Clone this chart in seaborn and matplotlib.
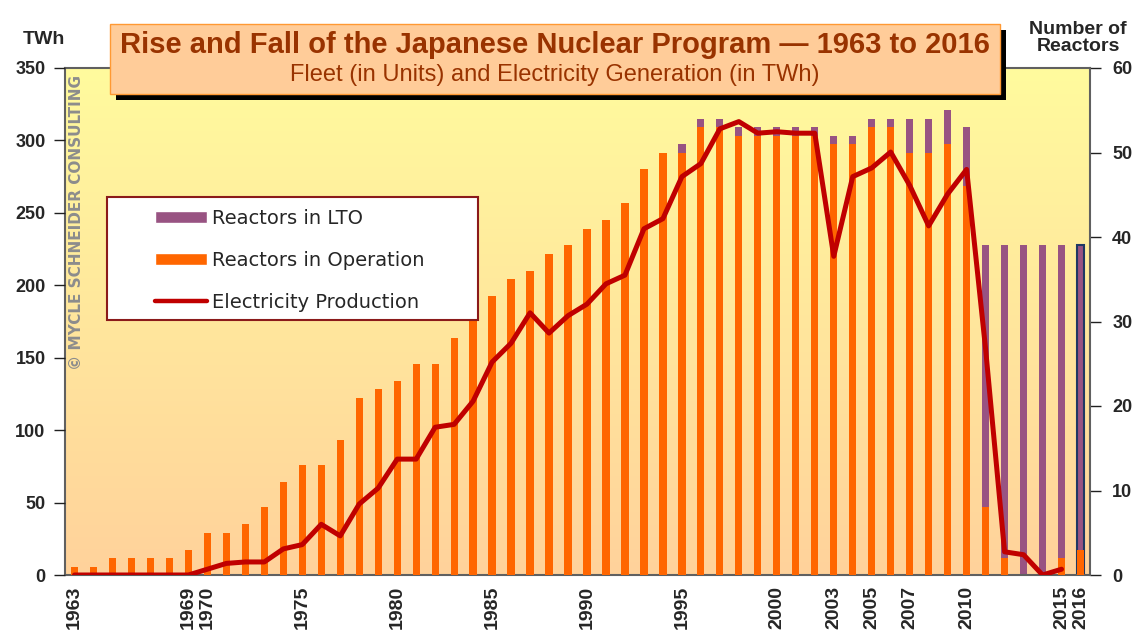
import numpy as np
import pandas as pd
import matplotlib
matplotlib.use('Agg')
import matplotlib.pyplot as plt
from matplotlib.patches import Rectangle, Patch
from matplotlib.lines import Line2D
import seaborn as sns

# data
years = list(range(1963, 2017))
operation = [1, 1, 2, 2, 2, 2, 3, 5, 5, 6, 8, 11, 13, 13, 16, 21, 22, 23, 25, 25,
             28, 31, 33, 35, 36, 38, 39, 41, 42, 44, 48, 50, 50, 53, 53, 52, 52, 52,
             52, 52, 51, 51, 53, 53, 50, 50, 51, 46, 8, 2, 0, 0, 2, 3]
lto = [0] * 32 + [1, 1, 1, 1, 1, 1, 1, 1, 1, 1, 1, 1, 4, 4, 4, 7, 31, 37, 39, 39, 37, 36]
# electricity production (TWh), 1963-2015
twh = [0, 0, 0, 0, 0, 0, 0, 4, 8, 9, 9, 18, 21, 35, 27, 49, 60, 80, 80, 102, 104,
       120, 147, 160, 181, 167, 179, 187, 201, 207, 239, 246, 275, 284, 308, 313,
       305, 306, 305, 305, 220, 275, 281, 292, 269, 241, 263, 280, 156, 16, 14, 0, 4]
label_years = [1963, 1969, 1970, 1975, 1980, 1985, 1990, 1995, 2000, 2003, 2005,
               2007, 2010, 2015, 2016]

ORANGE = '#FF6600'
PURPLE = '#985382'
RED = '#C00000'
BROWN = '#993300'

df = pd.DataFrame({'year': [str(y) for y in years], 'operation': operation,
                   'total': np.array(operation) + np.array(lto)})

sns.set_theme(style='white')
plt.rcParams['font.family'] = ['Liberation Sans', 'DejaVu Sans']

fig = plt.figure(figsize=(11.33, 6.35), dpi=100)
ax = fig.add_axes([65 / 1133, 60 / 635, 1025 / 1133, 507 / 635])

# background gradient
top = np.array([255, 251, 158]) / 255
bot = np.array([255, 210, 155]) / 255
grad = np.linspace(0, 1, 256)[:, None, None] * (bot - top) + top
ax.imshow(grad, extent=[0, 1, 0, 1], transform=ax.transAxes, aspect='auto', zorder=0)

sns.barplot(data=df, x='year', y='total', color=PURPLE, saturation=1, width=0.38,
            errorbar=None, ax=ax, zorder=2, linewidth=0)
sns.barplot(data=df, x='year', y='operation', color=ORANGE, saturation=1, width=0.38,
            errorbar=None, ax=ax, zorder=3, linewidth=0)
ax.patches[len(years) - 1].set_edgecolor('#1F3864')
ax.patches[len(years) - 1].set_linewidth(1.5)

ax.set_xlim(-0.5, len(years) - 0.5)
ax.set_ylim(0, 60)
ax.set_yticks(range(0, 61, 10))
ax.set_xlabel('')
ax.set_ylabel('')

ax2 = ax.twinx()
sns.lineplot(x=np.arange(len(twh)), y=twh, color=RED, lw=3.6, ax=ax2,
             solid_capstyle='round', solid_joinstyle='round', zorder=4)
ax2.set_ylim(0, 350)
ax2.set_yticks(range(0, 351, 50))
ax2.set_xlim(-0.5, len(years) - 0.5)
ax2.set_xlabel('')
ax2.set_ylabel('')
ax.yaxis.tick_right()
ax2.yaxis.tick_left()
for s in ax2.spines.values():
    s.set_visible(False)
for s in ax.spines.values():
    s.set_color('#606060')
    s.set_linewidth(1.5)

tick_font = dict(family='Liberation Sans', weight='bold', size=13)
ax.set_xticks([years.index(y) for y in label_years])
ax.set_xticklabels([str(y) for y in label_years], rotation=90, fontsize=14,
                   fontweight='bold', family='Liberation Sans')
ax.set_xticks(np.arange(-0.5, len(years), 1), minor=True)
ax.tick_params(axis='x', which='major', length=0, pad=8)
ax.tick_params(axis='x', which='minor', length=7, width=1, color='#404040', direction='out')
ax.tick_params(axis='y', length=8, width=1, color='#202020', direction='out', pad=8)
ax2.tick_params(axis='y', length=8, width=1, color='#202020', direction='out', pad=6)
for lab in ax.get_yticklabels() + ax2.get_yticklabels():
    lab.set_fontproperties(tick_font)

# legend
fig.add_artist(Rectangle((107 / 1133, 1 - 320 / 635), 371 / 1133, 123 / 635,
                         transform=fig.transFigure, facecolor='white',
                         edgecolor='#8B1A1A', lw=1.5, zorder=3))
handles = [Patch(facecolor=PURPLE), Patch(facecolor=ORANGE),
           Line2D([0], [0], color=RED, lw=3.2, solid_capstyle='round')]
leg = fig.legend(handles, ['Reactors in LTO', 'Reactors in Operation', 'Electricity Production'],
                 loc='upper left', bbox_to_anchor=(145 / 1133, 1 - 199 / 635),
                 frameon=False, prop=dict(family='DejaVu Sans', size=14),
                 handlelength=2.68, handleheight=0.62, handletextpad=0.26,
                 labelspacing=1.18, borderpad=0)
leg.set_zorder(4)

# watermark
fig.text(77 / 1133, 1 - 222 / 635, '© MYCLE SCHNEIDER CONSULTING', rotation=90,
         ha='center', va='center', color='#8C8C8C', fontsize=11, fontweight='bold',
         family='DejaVu Sans')

# title box
fig.add_artist(Rectangle((116 / 1133, 1 - 100 / 635), 890 / 1133, 70 / 635,
                         transform=fig.transFigure, facecolor='black', lw=0, zorder=5))
fig.add_artist(Rectangle((110 / 1133, 1 - 94 / 635), 890 / 1133, 70 / 635,
                         transform=fig.transFigure, facecolor='#FFCC99',
                         edgecolor='#FF9933', lw=1, zorder=6))
fig.text(555 / 1133, 1 - 45 / 635,
         'Rise and Fall of the Japanese Nuclear Program — 1963 to 2016',
         ha='center', va='center', color=BROWN, fontsize=21, fontweight='bold', zorder=7)
fig.text(555 / 1133, 1 - 75 / 635, 'Fleet (in Units) and Electricity Generation (in TWh)',
         ha='center', va='center', color=BROWN, fontsize=17, zorder=7)

fig.text(44 / 1133, 1 - 40 / 635, 'TWh', ha='center', va='center', fontsize=14,
         fontweight='bold')
fig.text(1078 / 1133, 1 - 38 / 635, 'Number of\nReactors', ha='center', va='center',
         fontsize=14, fontweight='bold', linespacing=1.05)

fig.savefig('out.png', dpi=100)
